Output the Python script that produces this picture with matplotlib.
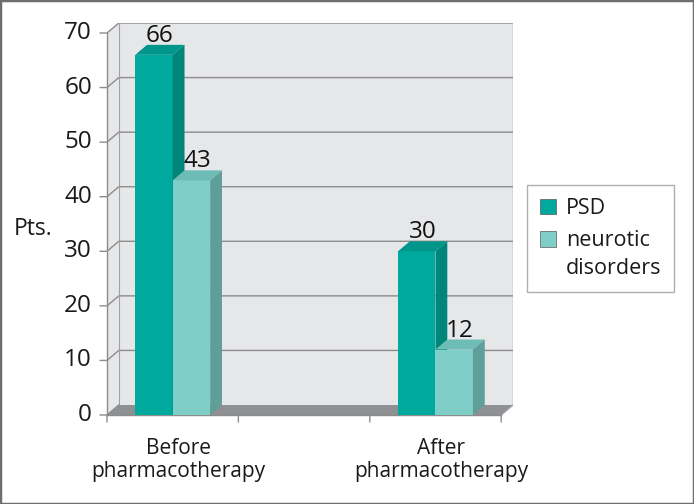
import matplotlib.pyplot as plt
from matplotlib.patches import Polygon, Patch, Rectangle
from matplotlib.legend_handler import HandlerPatch
import numpy as np

plt.rcParams['font.family'] = ['Open Sans', 'DejaVu Sans']

# data
categories = ['Before\npharmacotherapy', '', 'After\npharmacotherapy']
series_names = ['PSD', 'neurotic\ndisorders']
psd = [66, None, 30]
neurotic = [43, None, 12]
yticks = [0, 10, 20, 30, 40, 50, 60, 70]

front_colors = ['#00A99D', '#7FCFC8']
top_colors = ['#00968B', '#6DBCB5']
side_colors = ['#00857A', '#5F9E99']

# pseudo 3d depth in data units
dx = 0.09
dy = 1.83
bar_w = 0.285
ymax = 70
n = len(categories)

fig = plt.figure(figsize=(6.94, 5.04), dpi=100)
fig.patch.set_facecolor('white')
ax = fig.add_axes([107/694, 1 - 415/504, (513-107)/694, (415-23)/504])
ax.set_xlim(-0.5, n - 0.5 + dx)
ax.set_ylim(0, ymax + dy)
ax.axis('off')

x0, x1 = -0.5, n - 0.5
wall = '#E6E7E9'
edge = '#8C8C8C'

# left wall + back wall
ax.add_patch(Polygon([(x0, 0), (x0 + dx, dy), (x0 + dx, ymax + dy), (x0, ymax)],
                     closed=True, facecolor=wall, edgecolor='none', zorder=1))
ax.add_patch(Polygon([(x0 + dx, dy), (x1 + dx, dy), (x1 + dx, ymax + dy), (x0 + dx, ymax + dy)],
                     closed=True, facecolor=wall, edgecolor='none', zorder=1))
# floor
ax.add_patch(Polygon([(x0, 0), (x1, 0), (x1 + dx, dy), (x0 + dx, dy)],
                     closed=True, facecolor='#8F9093', edgecolor='none', zorder=2))

# gridlines
for v in yticks[1:]:
    ax.plot([x0, x0 + dx, x1 + dx], [v, v + dy, v + dy], color=edge, lw=1, zorder=1.5)
ax.plot([x0, x0 + dx], [0, dy], color=edge, lw=1, zorder=2.5)
ax.plot([x0 + dx, x0 + dx], [dy, ymax + dy], color='#A0A0A0', lw=0.8, zorder=1.5)
ax.plot([x1 + dx, x1 + dx], [dy, ymax + dy], color='#A0A0A0', lw=1, zorder=1.5)
ax.plot([x1, x1 + dx], [0, dy], color='#A0A0A0', lw=1, zorder=2.5)

# axes lines and ticks
ax.plot([x0, x0], [0, ymax], color=edge, lw=1, zorder=3, clip_on=False)
ax.plot([x0, x1], [0, 0], color=edge, lw=1, zorder=3, clip_on=False)
for v in yticks:
    ax.annotate('', xy=(x0, v), xytext=(-7, 0), textcoords='offset pixels',
                arrowprops=dict(arrowstyle='-', color=edge, lw=1, shrinkA=0, shrinkB=0))
    ax.annotate(str(v), xy=(x0, v), xytext=(-15, 0), textcoords='offset pixels',
                ha='right', va='center', fontsize=17.5, color='#1a1a1a')
for b in np.arange(x0, x1 + 0.01, 1):
    ax.annotate('', xy=(b, 0), xytext=(0, -7), textcoords='offset pixels',
                arrowprops=dict(arrowstyle='-', color=edge, lw=1, shrinkA=0, shrinkB=0))
for i, c in enumerate(categories):
    if c:
        ax.annotate(c, xy=(i + dx / 2, 0), xytext=(0, -23), textcoords='offset pixels',
                    ha='center', va='top', fontsize=15, color='#1a1a1a', linespacing=1.15)

# bars
for j, vals in enumerate([psd, neurotic]):
    for i, v in enumerate(vals):
        if v is None:
            continue
        left = i - bar_w + j * bar_w
        right = left + bar_w
        z = 4 + j
        ax.bar(left, v, width=bar_w, align='edge', color=front_colors[j], zorder=z)
        ax.add_patch(Polygon([(left, v), (right, v), (right + dx, v + dy), (left + dx, v + dy)],
                             closed=True, facecolor=top_colors[j], edgecolor='none', zorder=z))
        ax.add_patch(Polygon([(right, 0), (right + dx, dy), (right + dx, v + dy), (right, v)],
                             closed=True, facecolor=side_colors[j], edgecolor='none', zorder=z))
        ax.annotate(str(v), xy=((left + right) / 2 + dx / 2, v + dy), xytext=(0, -3),
                    textcoords='offset pixels', ha='center', va='bottom',
                    fontsize=17.5, color='#111111', zorder=10)

fig.text(14/694, 1 - 229/504, 'Pts.', fontsize=16.5, ha='left', va='center', color='#1a1a1a')


def top_square(legend, orig_handle, xdescent, ydescent, width, height, fontsize):
    # square aligned with the first line of a two-line label
    return Rectangle((-xdescent, -ydescent + 0.72 * fontsize), width, height)


handles = [Patch(facecolor=front_colors[k], edgecolor='#5a5a5a', lw=0.5) for k in range(2)]
leg = fig.legend(handles, series_names, loc='upper left',
                 bbox_to_anchor=(527/694, 1 - 185/504), fontsize=15.5, frameon=True,
                 fancybox=False, edgecolor='#9a9a9a', handlelength=0.75, handleheight=0.75,
                 handletextpad=0.45, borderpad=0.6, labelspacing=0.5, borderaxespad=0,
                 handler_map={handles[1]: HandlerPatch(patch_func=top_square)})
leg.get_frame().set_linewidth(1)
for t in leg.get_texts():
    t.set_linespacing(1.45)
    t.set_color('#1a1a1a')

fig.patches.append(Rectangle((0, 0), 1, 1, transform=fig.transFigure, fill=False,
                             edgecolor='#6e6e6e', lw=2.5, figure=fig))

plt.savefig('out.png', dpi=100)
